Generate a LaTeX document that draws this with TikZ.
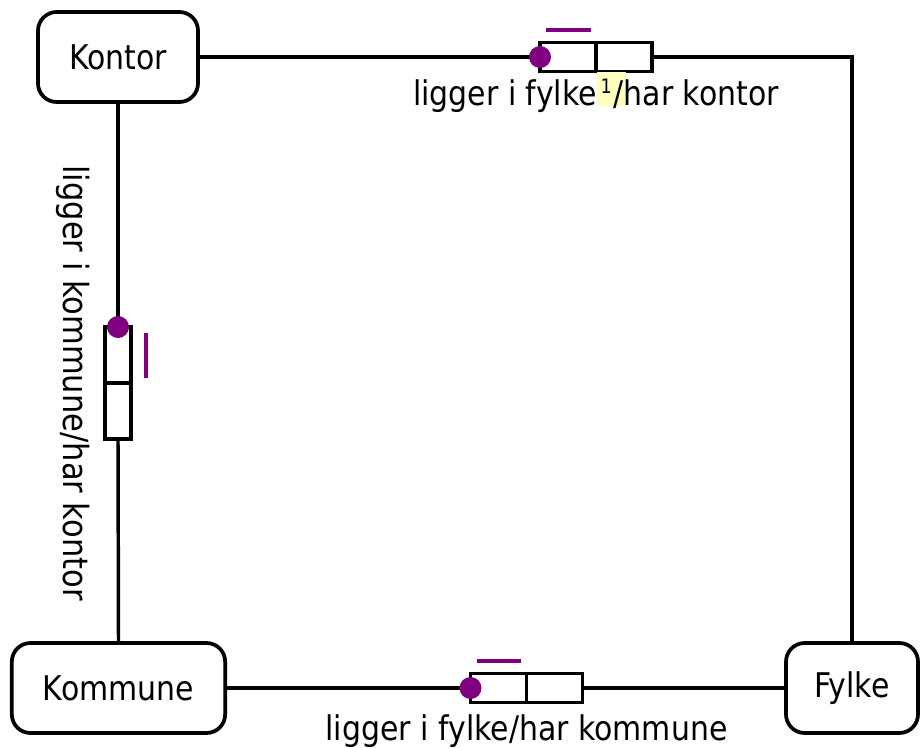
\documentclass[tikz,border=0pt]{standalone}
\usepackage{fontspec}
\setmainfont{DejaVu Sans}[FakeStretch=0.88]
\usetikzlibrary{positioning,calc}
\definecolor{roleuniq}{RGB}{128,0,128}
\definecolor{markhl}{RGB}{255,255,190}

\begin{document}
\begin{tikzpicture}[x=0.75pt,y=0.75pt,yscale=-1,xscale=1,
  objtype/.style={draw,line width=2.8pt,rounded corners=14pt,minimum height=67.5pt,inner sep=0pt,font=\fontsize{25.5}{30}\selectfont},
  rolebox/.style={draw,line width=2.6pt,minimum width=42pt,minimum height=21.75pt,inner sep=0pt,outer sep=0pt},
  rolevbox/.style={draw,line width=2.6pt,minimum width=19.5pt,minimum height=42pt,inner sep=0pt,outer sep=0pt},
  mandot/.style={circle,fill=roleuniq,inner sep=0pt,minimum size=16.5pt},
  uniqbar/.style={draw=roleuniq,line width=3pt},
  conn/.style={line width=2.6pt},
  rolelabel/.style={inner sep=0pt,anchor=base,font=\fontsize{25.5}{30}\selectfont}
]
\useasboundingbox (0,0) rectangle (921,747);

% object types
\node[objtype,minimum width=120pt] (kontor) at (118,57) {Kontor};
\node[objtype,minimum width=160pt] (kommune) at (118.5,688) {Kommune};
\node[objtype,minimum width=99pt] (fylke) at (852,688) {Fylke};

% fact types
\node[rolebox] (fk1) at (568,57) {};
\node[rolebox,right=0pt of fk1] (fk2) {};
\node[rolevbox] (ko1) at (118,355) {};
\node[rolevbox,below=0pt of ko1] (ko2) {};
\node[rolebox] (fy1) at (498.5,688) {};
\node[rolebox,right=0pt of fy1] (fy2) {};

% connectors
\draw[conn] (kontor.east) -- (fk1.west);
\draw[conn] (fk2.east) -| (fylke.north);
\draw[conn] (kontor.south) -- (ko1.north);
\draw[conn] (ko2.south) -- (kommune.north);
\draw[conn] (kommune.east) -- (fy1.west);
\draw[conn] (fy2.east) -- (fylke.west);

% mandatory dots
\node[mandot] (fk-dot) at (fk1.west) {};
\node[mandot] (ko-dot) at (ko1.north) {};
\node[mandot] (fy-dot) at (fy1.west) {};

% uniqueness bars
\draw[uniqbar] ($(fk1.north west)+(6,-13)$) -- ($(fk1.north east)+(-5,-13)$);
\draw[uniqbar] ($(ko1.north east)+(15,6)$) -- ($(ko1.south east)+(15,-5)$);
\draw[uniqbar] ($(fy1.north west)+(6,-13)$) -- ($(fy1.north east)+(-6,-13)$);

% readings
\node[rolelabel] (fk-lbl) at ($(fk1.south east)+(0,34)$) {ligger i fylke{\setlength{\fboxsep}{0pt}\colorbox{markhl}{\makebox[21.75pt][l]{\rule{0pt}{25pt}\hspace{3pt}\raisebox{9pt}{\fontsize{15}{15}\selectfont 1}}}}\kern-9pt/har kontor};
\node[rolelabel,rotate=-90,font=\fontsize{26}{30}\selectfont] (ko-lbl) at ($(ko1.south west)+(-42,0)$) {ligger i kommune/har kontor};
\node[rolelabel] (fy-lbl) at ($(fy1.south east)+(0,38)$) {ligger i fylke/har kommune};

\end{tikzpicture}
\end{document}
